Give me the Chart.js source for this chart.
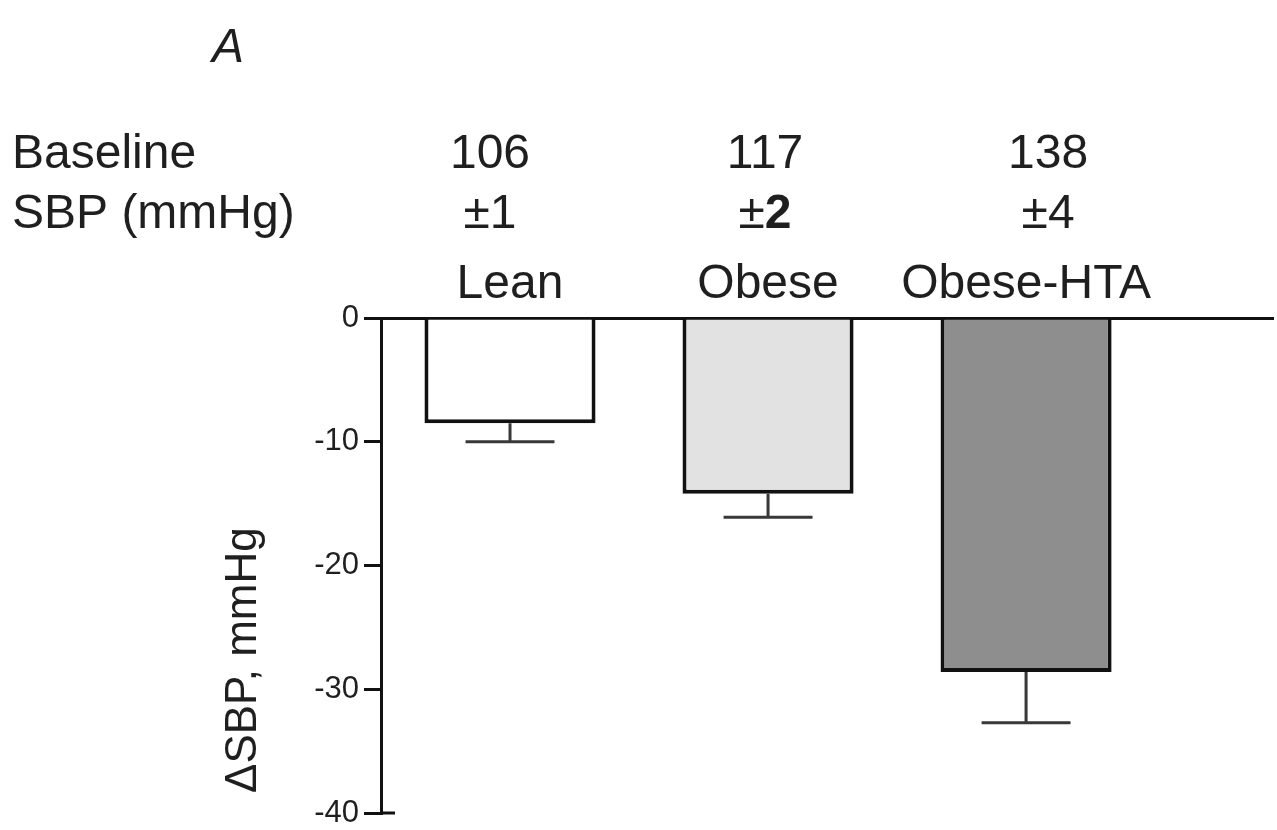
<!DOCTYPE html>
<html>
<head>
<meta charset="utf-8">
<script src="https://cdn.jsdelivr.net/npm/chart.js@4/dist/chart.umd.min.js"></script>
<style>
  html, body { margin: 0; padding: 0; background: #ffffff; }
  #wrap { width: 1277px; height: 830px; }
</style>
</head>
<body>
<div id="wrap"><canvas id="c" width="1277" height="830"></canvas></div>
<script>
// Change in systolic blood pressure by group (mean and SEM, mmHg)
const groups = ['Lean', 'Obese', 'Obese-HTA'];
const deltaSBP = [-8.5, -14.2, -28.6];
const deltaSEM = [1.5, 1.9, 4.1];

// Baseline SBP shown above each group
const baselineSBP = ['106', '117', '138'];
const baselineSEM = ['1', '2', '4'];
const boldSEM = [false, true, false];

const yTicks = [0, -10, -20, -30, -40];

const barColors = ['#ffffff', '#e2e2e2', '#8e8e8e'];
const FONT = '"Liberation Sans", Arial, Helvetica, sans-serif';
const INK = '#1f1f1f';
const LINE = '#111111';
const TEXT_SIZE = 48;

// horizontal nudges for the baseline-value column under each group
const headerShift = [-20, -3, 22];

const errorBars = {
  id: 'errorBars',
  afterDatasetsDraw(chart) {
    const { ctx, scales: { y } } = chart;
    const meta = chart.getDatasetMeta(0);
    ctx.save();
    ctx.strokeStyle = '#383838';
    ctx.lineWidth = 3;
    meta.data.forEach((bar, i) => {
      const cx = bar.x;
      const yEnd = y.getPixelForValue(deltaSBP[i]);
      const yErr = y.getPixelForValue(deltaSBP[i] - deltaSEM[i]);
      const half = bar.width * 0.26;
      ctx.beginPath();
      ctx.moveTo(cx, yEnd);
      ctx.lineTo(cx, yErr);
      ctx.moveTo(cx - half, yErr);
      ctx.lineTo(cx + half, yErr);
      ctx.stroke();
    });
    ctx.restore();
  }
};

const annotations = {
  id: 'annotations',
  afterDraw(chart) {
    const { ctx, chartArea, scales: { x, y } } = chart;
    ctx.save();
    ctx.fillStyle = INK;

    // panel letter
    ctx.font = `italic 48px ${FONT}`;
    ctx.textAlign = 'center';
    ctx.textBaseline = 'alphabetic';
    ctx.fillText('A', 228, 62);

    // row headings
    ctx.font = `${TEXT_SIZE}px ${FONT}`;
    ctx.textAlign = 'left';
    ctx.fillText('Baseline', 12, 168);
    ctx.fillText('SBP (mmHg)', 12, 228);

    // baseline values and their SEM
    groups.forEach((g, i) => {
      const cx = x.getPixelForValue(i) + headerShift[i];
      ctx.font = `${TEXT_SIZE}px ${FONT}`;
      ctx.textAlign = 'center';
      ctx.fillText(baselineSBP[i], cx, 168);

      const pm = '\u00B1';
      const pmW = ctx.measureText(pm).width;
      const digitFont = (boldSEM[i] ? 'bold ' : '') + `${TEXT_SIZE}px ${FONT}`;
      ctx.font = digitFont;
      const dW = ctx.measureText(baselineSEM[i]).width;
      const start = cx - (pmW + dW) / 2;
      ctx.textAlign = 'left';
      ctx.font = `${TEXT_SIZE}px ${FONT}`;
      ctx.fillText(pm, start, 228);
      ctx.font = digitFont;
      ctx.fillText(baselineSEM[i], start + pmW, 228);
    });

    // y-axis title
    ctx.font = `44px ${FONT}`;
    ctx.textAlign = 'left';
    ctx.translate(256, 793);
    ctx.rotate(-Math.PI / 2);
    ctx.fillText('\u0394SBP, mmHg', 0, 0);
    ctx.restore();

    // the bottom tick runs through the axis
    ctx.save();
    ctx.strokeStyle = LINE;
    ctx.lineWidth = 3;
    const yb = y.getPixelForValue(-40);
    ctx.beginPath();
    ctx.moveTo(chartArea.left, yb);
    ctx.lineTo(chartArea.left + 14, yb);
    ctx.stroke();
    ctx.restore();
  }
};

new Chart(document.getElementById('c'), {
  type: 'bar',
  data: {
    datasets: [{
      data: groups.map((g, i) => ({ x: i, y: deltaSBP[i] })),
      backgroundColor: barColors,
      borderColor: LINE,
      borderWidth: 4,
      borderSkipped: 'start',
      categoryPercentage: 1,
      barPercentage: 0.663
    }]
  },
  options: {
    responsive: false,
    animation: false,
    layout: { padding: { top: 258, right: 4, bottom: 17, left: 0 } },
    plugins: { legend: { display: false }, tooltip: { enabled: false } },
    scales: {
      x: {
        type: 'linear',
        position: 'top',
        offset: false,
        min: -0.5,
        max: 2.957,
        afterBuildTicks: s => { s.ticks = groups.map((g, i) => ({ value: i })); },
        afterFit: s => { s.height = 60; s.paddingLeft = 0; s.paddingRight = 0; },
        ticks: {
          callback: v => groups[v],
          font: { family: FONT, size: TEXT_SIZE },
          color: INK,
          padding: 4,
          autoSkip: false,
          maxRotation: 0
        },
        grid: { display: false, drawTicks: false, offset: false },
        border: { display: true, color: LINE, width: 3 }
      },
      y: {
        min: -40,
        max: 0,
        afterBuildTicks: s => { s.ticks = yTicks.map(v => ({ value: v })); },
        afterFit: s => { s.width = 381; s.paddingTop = 0; s.paddingBottom = 0; },
        ticks: { font: { family: FONT, size: 31 }, color: INK, padding: 5 },
        grid: { drawOnChartArea: false, drawTicks: true, tickLength: 17, lineWidth: 3, color: LINE },
        border: { display: true, color: LINE, width: 3 }
      }
    }
  },
  plugins: [errorBars, annotations]
});
</script>
</body>
</html>
